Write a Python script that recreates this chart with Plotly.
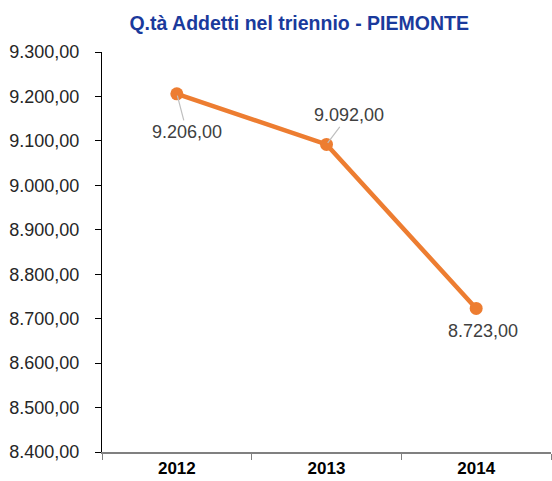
import plotly.graph_objects as go

years = ["2012", "2013", "2014"]
values = [9206, 9092, 8723]
label_texts = ["9.206,00", "9.092,00", "8.723,00"]
y_ticks = [8400, 8500, 8600, 8700, 8800, 8900, 9000, 9100, 9200, 9300]

FONT = "Liberation Sans, Arial, sans-serif"

fig = go.Figure()
fig.add_trace(go.Scatter(
    x=years, y=values, mode="lines+markers",
    line=dict(color="#ED7D31", width=4.5),
    marker=dict(color="#ED7D31", size=13),
    hoverinfo="skip", showlegend=False,
))

# data labels (offsets in px); x given as category index
offsets = [(10, 38, True), (22, -29, True), (7, 23, False)]
for i, (v, t, (ax, ay, arrow)) in enumerate(zip(values, label_texts, offsets)):
    if arrow:
        fig.add_annotation(x=i, y=v, xref="x", yref="y", text=t,
                           showarrow=True, arrowhead=0,
                           arrowwidth=1.2, arrowcolor="#BFBFBF", ax=ax, ay=ay,
                           font=dict(family=FONT, size=18, color="#404040"),
                           standoff=2)
    else:
        fig.add_annotation(x=i, y=v, xref="x", yref="y", text=t,
                           showarrow=False, xshift=ax, yshift=-ay,
                           font=dict(family=FONT, size=18, color="#404040"))

fig.update_layout(
    width=552, height=481,
    margin=dict(l=102, r=1, t=52, b=29),
    paper_bgcolor="white", plot_bgcolor="white",
    separators=",.",
    font=dict(family=FONT, color="#404040"),
    title=dict(text="<b>Q.tà Addetti nel triennio - PIEMONTE</b>",
               x=0.542, xanchor="center", y=1 - 23 / 481, yanchor="middle",
               font=dict(family=FONT, size=19.5, color="#1A3A9C")),
)
fig.update_xaxes(
    type="category", range=[-0.5, 2.5], tickson="boundaries",
    ticks="outside", ticklen=6, tickcolor="#808080",
    showline=True, linecolor="#808080", linewidth=1.5,
    showgrid=False, zeroline=False,
    tickfont=dict(family=FONT, size=17, color="#000000"),
    tickvals=years, ticktext=["<b>%s</b>" % y for y in years],
)
fig.update_yaxes(
    range=[8400, 9300], tickvals=y_ticks, tickformat=",.2f",
    ticks="outside", ticklen=6, tickcolor="#000000",
    showline=True, linecolor="#000000", linewidth=1.2,
    showgrid=False, zeroline=False, ticklabelstandoff=12,
    tickfont=dict(family=FONT, size=18, color="#262626"),
)

fig.write_html("out.html")
